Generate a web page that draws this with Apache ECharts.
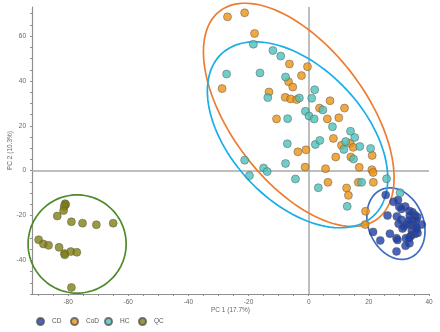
<!DOCTYPE html>
<html>
<head>
<meta charset="utf-8">
<title>PCA score plot</title>
<script src="https://cdn.jsdelivr.net/npm/echarts@6/dist/echarts.min.js"></script>
<style>
  html, body { margin: 0; padding: 0; background: #fff; }
  #pca { width: 440px; height: 332px; }
</style>
</head>
<body>
<div id="pca"></div>
<script>
// scores, [PC1, PC2]
var groupNames = ['CD', 'CoD', 'HC', 'QC'];

var cdScores = [
    [25.6, -10.8], [28.2, -13.9], [29.7, -13.1], [30.1, -16.1], [32.1, -16.0],
    [30.8, -17.1], [33.5, -18.0], [34.5, -18.5], [35.3, -19.8], [36.1, -20.7],
    [33.6, -20.1], [34.8, -21.6], [35.7, -22.0], [26.2, -20.0], [29.3, -20.4],
    [30.8, -21.9], [32.7, -23.8], [33.8, -24.1], [35.1, -24.0], [37.6, -24.0],
    [29.9, -23.7], [31.2, -25.8], [35.8, -25.1], [36.2, -27.8], [34.3, -26.8],
    [35.3, -28.2], [34.2, -28.7], [33.8, -29.3], [33.4, -30.1], [21.4, -27.3],
    [27.0, -28.1], [23.8, -31.1], [29.2, -30.1], [29.5, -30.9], [32.3, -30.1],
    [33.5, -32.4], [32.2, -33.5], [29.2, -36.0], [35.9, -26.2], [31.7, -24.9],
    [33.3, -22.2]
];

var codScores = [
    [-27.0, 68.6], [-21.3, 70.4], [-18.0, 61.2], [-6.4, 47.6], [-0.4, 46.4],
    [-6.7, 39.7], [-5.3, 37.3], [-2.4, 42.4], [-28.8, 36.6], [-13.2, 35.1],
    [-7.8, 32.7], [-6.0, 32.0], [-4.0, 31.7], [7.1, 31.2], [3.6, 27.9],
    [11.9, 27.9], [-10.7, 23.1], [6.2, 23.1], [10.0, 23.6], [8.2, 14.4],
    [10.9, 11.3], [13.8, 12.2], [14.8, 10.4], [-3.6, 8.4], [-0.9, 9.3],
    [9.0, 6.1], [14.0, 6.1], [21.1, 6.8], [-1.2, 1.6], [5.6, 0.9],
    [6.4, -5.2], [12.6, -7.7], [13.2, -11.0], [16.8, 1.5], [21.0, 0.4],
    [21.4, -0.8], [16.5, -5.2], [21.5, -5.2], [18.9, -18.1], [18.8, -24.0]
];

var hcScores = [
    [-18.4, 56.4], [-11.9, 53.6], [-9.3, 51.1], [-27.3, 43.1], [-16.2, 43.6],
    [-7.7, 41.8], [-13.6, 32.6], [-3.1, 32.4], [2.0, 36.1], [1.0, 32.3],
    [-1.1, 26.5], [0.1, 24.4], [1.8, 23.1], [4.7, 27.1], [-7.0, 23.2],
    [7.9, 19.6], [13.9, 17.6], [15.3, 14.8], [12.3, 13.0], [17.0, 10.8],
    [20.6, 9.9], [-7.1, 12.0], [2.2, 11.7], [3.7, 13.5], [11.7, 9.5],
    [14.9, 5.2], [-21.3, 4.7], [-7.7, 3.2], [-15.0, 1.2], [-13.8, -0.4],
    [-19.7, -2.2], [-4.4, -3.7], [3.2, -7.6], [12.8, -15.9], [17.6, -5.2],
    [25.9, -3.6], [30.4, -9.8]
];

var qcScores = [
    [-81.0, -14.7], [-80.8, -15.1], [-81.3, -16.0], [-81.5, -17.8], [-83.6, -20.2],
    [-78.9, -22.8], [-75.2, -23.4], [-70.6, -24.1], [-65.0, -23.4], [-89.8, -30.8],
    [-88.2, -32.7], [-86.5, -33.3], [-83.0, -34.2], [-81.2, -36.9], [-81.1, -37.5],
    [-79.1, -36.1], [-77.1, -36.4], [-78.9, -52.1]
];

// confidence ellipses: centre, then two conjugate half-axis vectors (PC units)
var ellipseCentres = [[29.0, -23.6], [-3.3, 24.9], [-3.7, 16.0], [-77.0, -32.7]];
var ellipseAxisA = [[9.67, -3.3], [31.7, -28.1], [30.0, -19.5], [16.3, 0]];
var ellipseAxisB = [[0, -15.6], [0, -41.1], [0, -36.6], [0, 21.9]];

var xTickLabels = [-80, -60, -40, -20, 0, 20, 40];
var yTickLabels = [-40, -20, 0, 20, 40, 60];

var dotColors = ['#1d3fa8', '#ec9212', '#4cc2bb', '#808012'];
var ringColors = ['#3f6cc4', '#ed7d31', '#19aee8', '#4f8a2b'];

function minorTicks(from, to, step) {
    var out = [];
    for (var v = from; v <= to; v += step) out.push(v);
    return out;
}

function drawEllipse(params, api) {
    var cx = api.value(0), cy = api.value(1);
    var ax = api.value(2), ay = api.value(3);
    var bx = api.value(4), by = api.value(5);
    var pts = [];
    for (var i = 0; i < 120; i++) {
        var t = i / 120 * Math.PI * 2;
        pts.push(api.coord([
            cx + Math.cos(t) * ax + Math.sin(t) * bx,
            cy + Math.cos(t) * ay + Math.sin(t) * by
        ]));
    }
    return {
        type: 'polygon',
        shape: { points: pts },
        style: { fill: 'none', stroke: ringColors[params.dataIndex], lineWidth: 1.7 }
    };
}

var ellipseData = ellipseCentres.map(function (c, i) {
    return [c[0], c[1], ellipseAxisA[i][0], ellipseAxisA[i][1], ellipseAxisB[i][0], ellipseAxisB[i][1]];
});

var groups = [cdScores, codScores, hcScores, qcScores];

var chart = echarts.init(document.getElementById('pca'));
window.onresize = chart.resize;

var axisFont = { fontFamily: 'Liberation Sans, Arial, sans-serif', fontSize: 6.5, color: '#666' };

var series = groups.map(function (pts, i) {
    var s = {
        name: groupNames[i],
        type: 'scatter',
        data: pts,
        symbol: 'circle',
        symbolSize: 8,
        z: 3,
        itemStyle: { color: dotColors[i], borderColor: '#555', borderWidth: 0.6 }
    };
    if (i === 0) {
        s.markLine = {
            silent: true,
            symbol: 'none',
            label: { show: false },
            lineStyle: { color: '#a8a8a8', width: 1.5, type: 'solid' },
            data: [{ xAxis: 0 }, { yAxis: 0 }],
            z: 1
        };
    }
    return s;
});

series.push({
    type: 'custom',
    name: 'ellipses',
    renderItem: drawEllipse,
    data: ellipseData,
    encode: { x: 0, y: 1 },
    clip: false,
    silent: true,
    z: 2
});

// one legend per group so the entries sit at even steps
var legends = groupNames.map(function (n, i) {
    return {
        data: [n],
        left: 31 + 34 * i,
        bottom: 1,
        icon: 'circle',
        itemWidth: 7,
        itemHeight: 7,
        textStyle: {
            fontFamily: 'Liberation Sans, Arial, sans-serif', fontSize: 6.5, color: '#555',
            padding: [0, 0, 0, 3]
        }
    };
});

option = {
    animation: false,
    backgroundColor: '#fff',
    grid: { left: 32, right: 11, top: 7, bottom: 38, outerBoundsMode: 'none' },
    legend: legends,
    xAxis: {
        type: 'value',
        min: -92,
        max: 40,
        name: 'PC 1 (17.7%)',
        nameLocation: 'middle',
        nameGap: 13,
        nameMoveOverlap: false,
        nameTextStyle: axisFont,
        axisLine: { show: true, onZero: false, lineStyle: { color: '#8f8f8f', width: 1.2 } },
        axisTick: { show: true, length: 2, customValues: minorTicks(-90, 40, 5), lineStyle: { color: '#8f8f8f' } },
        axisLabel: Object.assign({ margin: 5, customValues: xTickLabels }, axisFont),
        splitLine: { show: false }
    },
    yAxis: {
        type: 'value',
        min: -55,
        max: 73,
        name: 'PC 2 (10.3%)',
        nameLocation: 'middle',
        nameGap: 18,
        nameMoveOverlap: false,
        nameTextStyle: axisFont,
        axisLine: { show: true, onZero: false, lineStyle: { color: '#8f8f8f', width: 1.2 } },
        axisTick: { show: true, length: 2, customValues: minorTicks(-55, 70, 5), lineStyle: { color: '#8f8f8f' } },
        axisLabel: Object.assign({ margin: 6, customValues: yTickLabels }, axisFont),
        splitLine: { show: false }
    },
    series: series
};

chart.setOption(option);
</script>
</body>
</html>
